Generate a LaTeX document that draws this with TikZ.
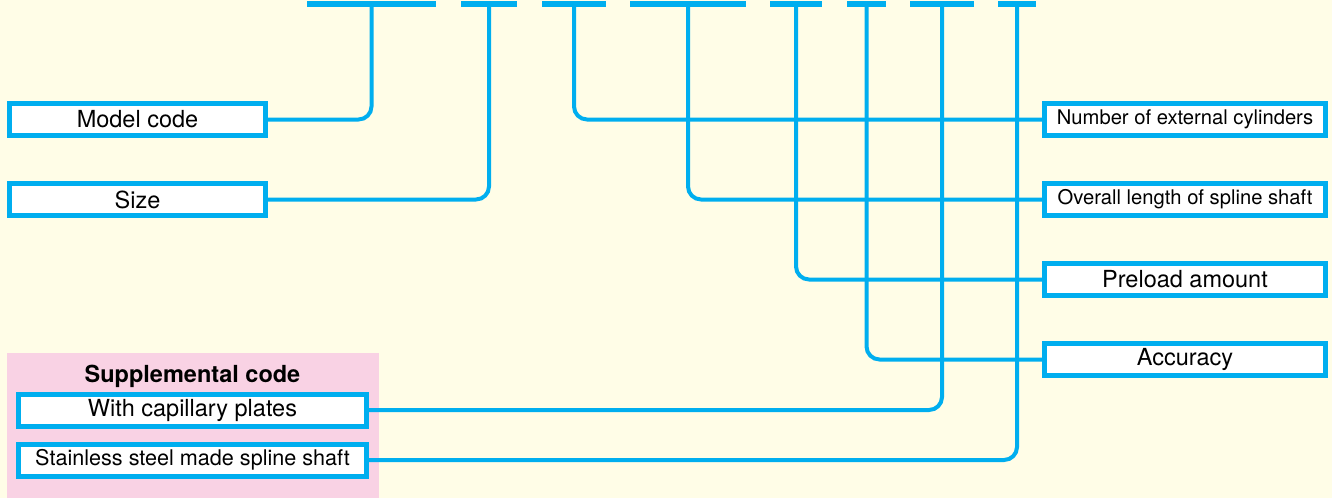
\documentclass[tikz,border=0pt]{standalone}
\usepackage{fontspec}
\setmainfont{TeX Gyre Heros}
\usetikzlibrary{positioning}
\definecolor{thkblue}{RGB}{0,174,239}
\definecolor{cream}{RGB}{255,253,231}
\definecolor{suppink}{RGB}{249,210,228}
\newcommand{\boxfont}{\fontsize{23.5}{28}\selectfont}
\newcommand{\narrowfont}{\fontsize{20.2}{24}\selectfont}
\newcommand{\suppfont}{\fontsize{21.6}{26}\selectfont}

\begin{document}
\begin{tikzpicture}[x=1pt, y=-1pt,
  codebox/.style={draw=thkblue, line width=5pt, fill=white, inner sep=0pt,
    minimum height=32pt, font=\boxfont},
  leftbox/.style={codebox, minimum width=256pt},
  rightbox/.style={codebox, minimum width=281pt},
  suppbox/.style={codebox, minimum width=348pt},
  bar/.style={fill=thkblue, inner sep=0pt, outer sep=0pt, minimum height=6pt},
  link/.style={draw=thkblue, line width=4pt, rounded corners=13pt},
  node distance=43pt]
  \useasboundingbox (0,0) rectangle (1332,498);
  \fill[cream] (0,0) rectangle (1332,498);
  %
  % bars of the code at top
  \foreach \name/\x/\w in {bar1/371.5/129, bar2/489/56, bar3/574/64, bar4/688/116,
    bar5/796/52, bar6/866.5/39, bar7/942/64, bar8/1017/38}
    \node[bar, minimum width=\w] (\name) at (\x,4) {};
  %
  % boxes at left
  \node[leftbox] (model) at (137.5,119.5) {Model code};
  \node[leftbox, below=of model] (size) {Size};
  %
  % boxes at right
  \node[rightbox, font=\narrowfont] (number) at (1185,119.5) {Number of external cylinders};
  \node[rightbox, font=\narrowfont, below=of number] (length) {Overall length of spline shaft};
  \node[rightbox, below=of length] (preload) {Preload amount};
  \node[rightbox, below=of preload] (accuracy) {Accuracy};
  %
  % supplemental code
  \fill[suppink] (7,353) rectangle (379,498);
  \node[font=\boxfont\bfseries] (supp) at (192.5,376) {Supplemental code};
  \node[suppbox] (capillary) at (192.5,410) {With capillary plates};
  \node[suppbox, font=\suppfont, below=13pt of capillary] (stainless) {Stainless steel made spline shaft};
  %
  % connectors
  \draw[link] (bar1.south) |- (model.east);
  \draw[link] (bar2.south) |- (size.east);
  \draw[link] (bar3.south) |- (number.west);
  \draw[link] (bar4.south) |- (length.west);
  \draw[link] (bar5.south) |- (preload.west);
  \draw[link] (bar6.south) |- (accuracy.west);
  \draw[link] (bar7.south) |- (capillary.east);
  \draw[link] (bar8.south) |- (stainless.east);
\end{tikzpicture}
\end{document}
